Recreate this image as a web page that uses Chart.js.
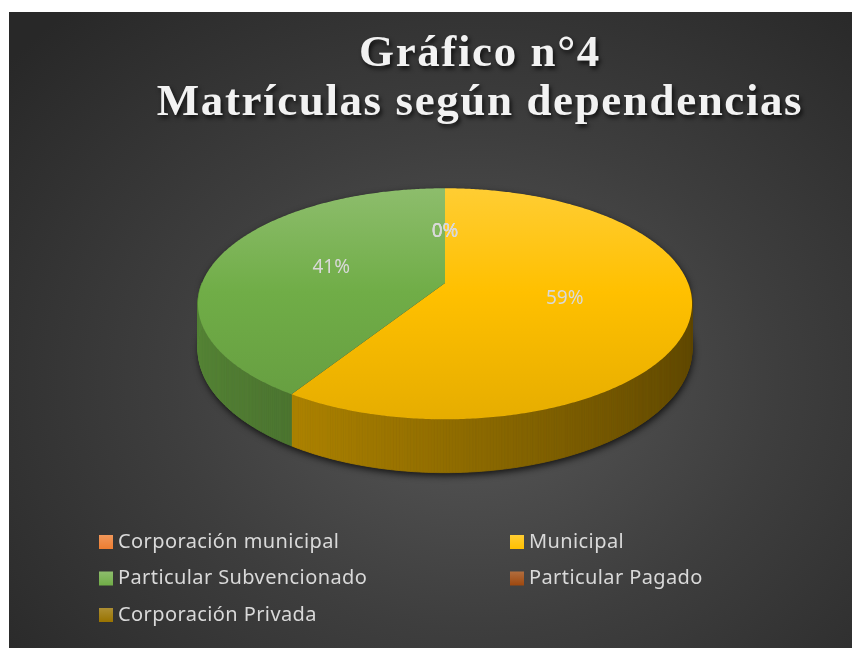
<!DOCTYPE html>
<html>
<head>
<meta charset="utf-8">
<script src="https://cdn.jsdelivr.net/npm/chart.js@4.4.1/dist/chart.umd.min.js"></script>
<style>
    html, body { margin: 0; padding: 0; background: #ffffff; }
    #wrap {
        position: absolute; left: 9px; top: 12px; width: 843px; height: 636px;
        background: radial-gradient(ellipse 72% 78% at 55% 58%, #585858 0%, #3e3e3e 50%, #282828 100%);
    }
</style>
</head>
<body>
<div id="wrap"><canvas id="chart"></canvas></div>
<script>
const titleLines = ['Gráfico n°4', 'Matrículas según dependencias'];
const categories = ['Corporación municipal', 'Municipal', 'Particular Subvencionado', 'Particular Pagado', 'Corporación Privada'];
const matriculas = [0, 59, 41, 0, 0];
const sliceColors = ['#ED7D31', '#FFC000', '#70AD47', '#9E480E', '#997300'];

// 3D look: vertical squash, perspective strength, wall height (fractions of radius)
const tilt = 0.46, persp = 0.18, wall = 0.18;

function rgb(hex) {
    return [1, 3, 5].map(i => parseInt(hex.substr(i, 2), 16));
}
function shade(hex, k) {
    const c = rgb(hex).map(v => Math.max(0, Math.min(255, Math.round(v * k))));
    return `rgb(${c[0]},${c[1]},${c[2]})`;
}
function tint(hex, t) {
    const c = rgb(hex).map(v => Math.round(v + (255 - v) * t));
    return `rgb(${c[0]},${c[1]},${c[2]})`;
}

function project(arc, u, v, drop) {
    const R = arc.outerRadius;
    const f = 1 / (1 - persp * v);
    return { x: arc.x + R * u * f, y: arc.y + R * f * (tilt * v + (drop ? wall : 0)) };
}
function onRim(arc, a, drop) {
    return project(arc, Math.cos(a), Math.sin(a), drop);
}

const pie3d = {
    id: 'pie3d',
    beforeDatasetsDraw(chart) {
        const ctx = chart.ctx;
        const arcs = chart.getDatasetMeta(0).data;
        const ref = arcs[0];
        const step = 0.01;

        // drop shadow of the whole body
        ctx.save();
        ctx.beginPath();
        for (let a = Math.PI; a <= 2 * Math.PI + 1e-6; a += step) {
            const p = onRim(ref, a, false);
            ctx.lineTo(p.x, p.y);
        }
        for (let a = 0; a <= Math.PI + 1e-6; a += step) {
            const p = onRim(ref, a, true);
            ctx.lineTo(p.x, p.y);
        }
        ctx.closePath();
        ctx.shadowColor = 'rgba(0,0,0,0.75)';
        ctx.shadowBlur = 7;
        ctx.shadowOffsetX = 1;
        ctx.shadowOffsetY = 3;
        ctx.fillStyle = '#333';
        ctx.fill();
        ctx.restore();

        // side walls (front half only)
        arcs.forEach((arc, i) => {
            const n = Math.ceil((arc.endAngle - arc.startAngle) / step);
            for (let s = 0; s < n; s++) {
                const a0 = arc.startAngle + (arc.endAngle - arc.startAngle) * s / n;
                const a1 = arc.startAngle + (arc.endAngle - arc.startAngle) * (s + 1) / n;
                const mid = (a0 + a1) / 2;
                if (Math.sin(mid) <= 0) continue;
                const p0 = onRim(arc, a0, false), p1 = onRim(arc, a1, false);
                const q0 = onRim(arc, a0, true), q1 = onRim(arc, a1, true);
                const col = shade(sliceColors[i], 0.57 - 0.2 * Math.cos(mid));
                ctx.beginPath();
                ctx.moveTo(p0.x, p0.y);
                ctx.lineTo(p1.x, p1.y);
                ctx.lineTo(q1.x, q1.y);
                ctx.lineTo(q0.x, q0.y);
                ctx.closePath();
                ctx.fillStyle = col;
                ctx.strokeStyle = col;
                ctx.lineWidth = 0.8;
                ctx.fill();
                ctx.stroke();
            }
        });

        // top faces
        const yTop = onRim(ref, -Math.PI / 2, false).y;
        const yBot = onRim(ref, Math.PI / 2, false).y;
        arcs.forEach((arc, i) => {
            if (arc.endAngle - arc.startAngle <= 0) return;
            const g = ctx.createLinearGradient(0, yTop, 0, yBot);
            g.addColorStop(0, tint(sliceColors[i], 0.2));
            g.addColorStop(0.45, sliceColors[i]);
            g.addColorStop(1, shade(sliceColors[i], 0.9));
            const c = project(arc, 0, 0, false);
            ctx.beginPath();
            ctx.moveTo(c.x, c.y);
            const n = Math.ceil((arc.endAngle - arc.startAngle) / step);
            for (let s = 0; s <= n; s++) {
                const a = arc.startAngle + (arc.endAngle - arc.startAngle) * s / n;
                const p = onRim(arc, a, false);
                ctx.lineTo(p.x, p.y);
            }
            ctx.closePath();
            ctx.fillStyle = g;
            ctx.fill();
        });

        // percentage labels
        const total = matriculas.reduce((s, v) => s + v, 0);
        ctx.save();
        ctx.font = '19px "Noto Sans"';
        ctx.fillStyle = '#d9d9d9';
        ctx.textAlign = 'center';
        ctx.textBaseline = 'middle';
        arcs.forEach((arc, i) => {
            const tp = arc.tooltipPosition();
            const R = arc.outerRadius;
            const p = project(arc, (tp.x - arc.x) / R, (tp.y - arc.y) / R, false);
            ctx.fillText(Math.round(matriculas[i] / total * 100) + '%', p.x, p.y);
        });
        ctx.restore();
        return false;
    },
    afterDraw(chart) {
        const ctx = chart.ctx;
        // title
        ctx.save();
        ctx.font = 'bold 45px "Liberation Serif"';
        ctx.letterSpacing = '1.6px';
        ctx.textAlign = 'center';
        ctx.textBaseline = 'alphabetic';
        ctx.fillStyle = '#f2f2f2';
        ctx.shadowColor = 'rgba(0,0,0,0.7)';
        ctx.shadowBlur = 4;
        ctx.shadowOffsetX = 2;
        ctx.shadowOffsetY = 3;
        ctx.fillText(titleLines[0], 471, 54);
        ctx.fillText(titleLines[1], 471, 103);
        ctx.restore();

        // legend in two columns
        ctx.save();
        ctx.font = '20px "Noto Sans"';
        ctx.letterSpacing = '0.4px';
        ctx.textBaseline = 'middle';
        categories.forEach((label, i) => {
            const x = 90 + (i % 2) * 411;
            const y = 530 + Math.floor(i / 2) * 36.5;
            const g = ctx.createLinearGradient(0, y - 7, 0, y + 7);
            g.addColorStop(0, tint(sliceColors[i], 0.2));
            g.addColorStop(1, sliceColors[i]);
            ctx.fillStyle = g;
            ctx.fillRect(x, y - 7, 14, 14);
            ctx.fillStyle = '#d9d9d9';
            ctx.fillText(label, x + 19, y);
        });
        ctx.restore();
    }
};

const ctx = document.getElementById('chart').getContext('2d');
new Chart(ctx, {
    type: 'pie',
    data: {
        labels: categories,
        datasets: [{
            data: matriculas,
            backgroundColor: sliceColors,
            borderWidth: 0
        }]
    },
    options: {
        responsive: true,
        maintainAspectRatio: false,
        animation: false,
        events: [],
        layout: { padding: { left: 29, right: 0, top: 28, bottom: 122 } },
        plugins: {
            legend: { display: false },
            title: { display: false },
            tooltip: { enabled: false }
        }
    },
    plugins: [pie3d]
});
</script>
</body>
</html>
